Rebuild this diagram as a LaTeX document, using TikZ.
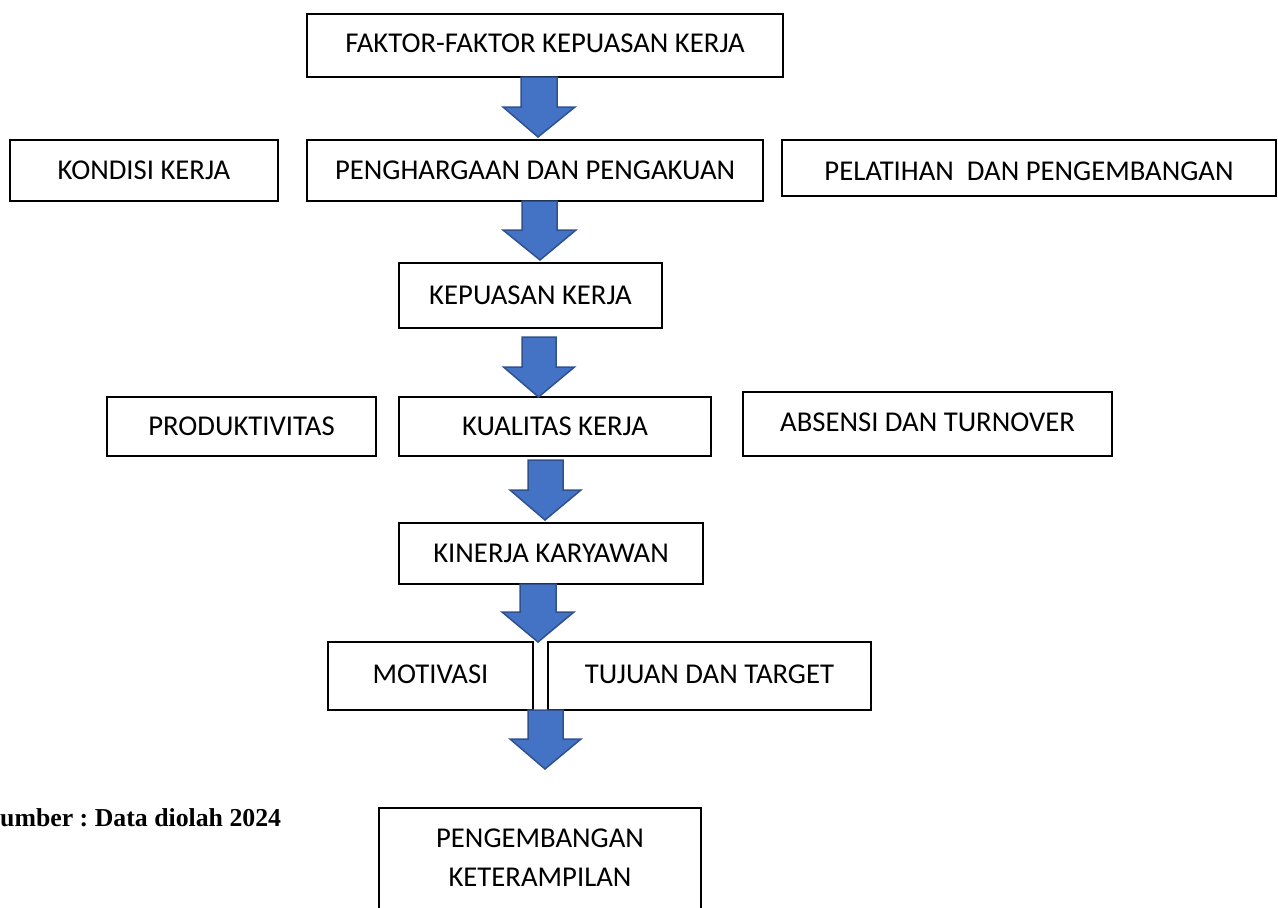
\documentclass[tikz,border=0pt]{standalone}
\usepackage{fontspec}
\setmainfont{Carlito}
\newfontfamily\srcfont{Liberation Serif}
\usetikzlibrary{calc}
\definecolor{arrowfill}{HTML}{4472C4}
\definecolor{arrowline}{HTML}{2F528F}
\tikzset{
  box/.style={draw=black, line width=2pt, inner sep=0pt, text height=18.5pt, text depth=0pt,
    font=\fontsize{28.7}{39}\selectfont, anchor=center},
  blockarrow/.style={fill=arrowfill, draw=arrowline, line width=1.5pt, line join=miter},
}
\newcommand\downblock[4]{%
  \draw[blockarrow] let \p1=(#1), \p2=(#2) in
    (\x1-#3,\y1) -- (\x1+#3,\y1) -- (\x1+#3,\y2+30pt) -- (\x1+#4,\y2+30pt) --
    (\x2,\y2) -- (\x1-#4,\y2+30pt) -- (\x1-#3,\y2+30pt) -- cycle;}
\frenchspacing
\begin{document}
\begin{tikzpicture}[x=1pt,y=-1pt]
\useasboundingbox (0,0) rectangle (1278,908);
\clip (0,0) rectangle (1278,908);
\fill[white] (0,0) rectangle (1278,908);

\node[box, minimum width=476pt, minimum height=63pt, text depth=5pt] (faktor) at (545,45.5) {FAKTOR-FAKTOR KEPUASAN KERJA};
\node[box, minimum width=268pt, minimum height=61pt] (kondisi) at (144,170.5) {KONDISI KERJA};
\node[box, minimum width=456pt, minimum height=61pt] (penghargaan) at (535,170.5) {PENGHARGAAN DAN PENGAKUAN};
\node[box, minimum width=494pt, minimum height=56pt, text height=25.5pt] (pelatihan) at (1029,168) {PELATIHAN~ DAN PENGEMBANGAN};
\node[box, minimum width=263pt, minimum height=65pt] (kepuasan) at (530.5,295.5) {KEPUASAN KERJA};
\node[box, minimum width=269pt, minimum height=59pt] (produktivitas) at (241.5,426.5) {PRODUKTIVITAS};
\node[box, minimum width=312pt, minimum height=59pt] (kualitas) at (555,426.5) {KUALITAS KERJA};
\node[box, minimum width=369pt, minimum height=64pt, text depth=3pt] (absensi) at (927.5,424) {ABSENSI DAN TURNOVER};
\node[box, minimum width=304pt, minimum height=61pt] (kinerja) at (551,553.5) {KINERJA KARYAWAN};
\node[box, minimum width=205pt, minimum height=68pt, text depth=3pt] (motivasi) at (430.5,676) {MOTIVASI};
\node[box, minimum width=323pt, minimum height=68pt, text depth=3pt] (tujuan) at (709.5,676) {TUJUAN DAN TARGET};
\node[box, minimum width=322pt, minimum height=150pt, anchor=north] (pengembangan) at (540,807) {};
\node[inner sep=0pt, align=center, font=\fontsize{28.7}{38.5}\selectfont, anchor=base] (pengtext) at ($(pengembangan.north)+(0,79)$) {PENGEMBANGAN\\KETERAMPILAN};

\node[anchor=base west, inner sep=0pt, font=\srcfont\bfseries\fontsize{25.8}{30}\selectfont] (sumber) at (0,826) {umber : Data diolah 2024};

\coordinate (a1t) at (539,77);   \coordinate (a1b) at (538,137);
\coordinate (a2t) at (539.5,201);\coordinate (a2b) at (540,260);
\coordinate (a3t) at (539,337);  \coordinate (a3b) at (538.5,397);
\coordinate (a4t) at (545.5,460);\coordinate (a4b) at (545,520);
\coordinate (a5t) at (538,584);  \coordinate (a5b) at (538,642);
\coordinate (a6t) at (545.5,710);\coordinate (a6b) at (545,769);

\downblock{a1t}{a1b}{18pt}{36pt}
\downblock{a2t}{a2b}{17.5pt}{36.5pt}
\downblock{a3t}{a3b}{17pt}{35.5pt}
\downblock{a4t}{a4b}{17.5pt}{35.5pt}
\downblock{a5t}{a5b}{18pt}{36pt}
\downblock{a6t}{a6b}{17.5pt}{35.5pt}
\end{tikzpicture}
\end{document}
